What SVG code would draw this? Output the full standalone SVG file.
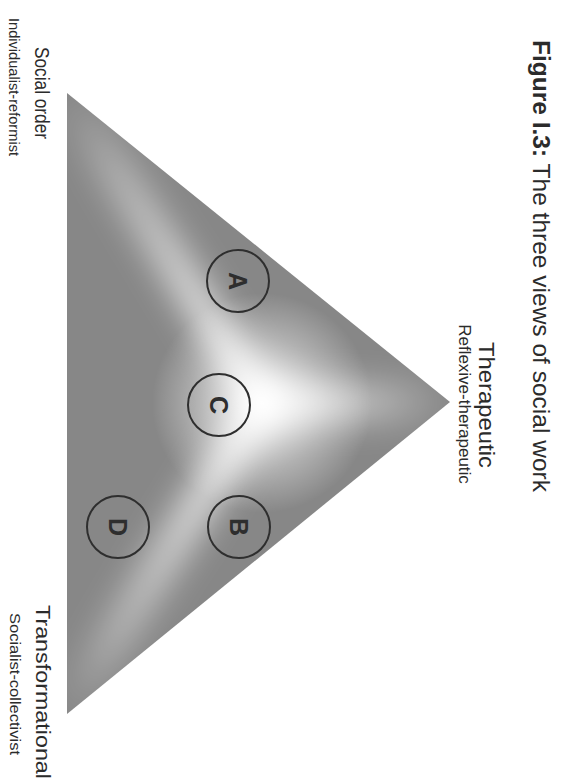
<svg xmlns="http://www.w3.org/2000/svg" width="571" height="781" viewBox="0 0 571 781">
<style>
.t{font-family:"Liberation Sans",Arial,sans-serif;fill:#2b2b2b}
.ring{fill:none;stroke:#2e2e2e;stroke-width:2}
.lt{font-family:"Liberation Sans",Arial,sans-serif;font-weight:bold;font-size:25px;fill:#2e2e2e;text-anchor:middle}
.ridge{stroke-linecap:round;fill:none}
</style>
<defs>
<clipPath id="triClip"><polygon points="67,93 67,714 450,402"/></clipPath>
<filter id="soft" x="-30%" y="-30%" width="160%" height="160%"><feGaussianBlur stdDeviation="16"/></filter>
<radialGradient id="glow" cx="262" cy="403" r="110" gradientUnits="userSpaceOnUse">
<stop offset="0" stop-color="#ffffff" stop-opacity="0.95"/>
<stop offset="0.6" stop-color="#ffffff" stop-opacity="0.35"/>
<stop offset="1" stop-color="#ffffff" stop-opacity="0"/>
</radialGradient>
<linearGradient id="gTL" x1="262" y1="403" x2="67" y2="93" gradientUnits="userSpaceOnUse">
<stop offset="0" stop-color="#fff" stop-opacity="0.95"/><stop offset="0.75" stop-color="#fff" stop-opacity="0.35"/><stop offset="1" stop-color="#fff" stop-opacity="0"/>
</linearGradient>
<linearGradient id="gBL" x1="262" y1="403" x2="67" y2="714" gradientUnits="userSpaceOnUse">
<stop offset="0" stop-color="#fff" stop-opacity="0.95"/><stop offset="0.75" stop-color="#fff" stop-opacity="0.35"/><stop offset="1" stop-color="#fff" stop-opacity="0"/>
</linearGradient>
<linearGradient id="gR" x1="262" y1="403" x2="450" y2="402" gradientUnits="userSpaceOnUse">
<stop offset="0" stop-color="#fff" stop-opacity="0.95"/><stop offset="0.7" stop-color="#fff" stop-opacity="0.3"/><stop offset="1" stop-color="#fff" stop-opacity="0"/>
</linearGradient>
</defs>

<g id="title">
<text class="t" font-size="24" transform="translate(533,40) rotate(90)" textLength="452" lengthAdjust="spacingAndGlyphs"><tspan font-weight="bold">Figure I.3:</tspan> The three views of social work</text>
</g>

<g id="triangle">
<polygon points="67,93 67,714 450,402" fill="#878787"/>
<g clip-path="url(#triClip)">
<g filter="url(#soft)">
<line class="ridge" x1="262" y1="403" x2="67" y2="93" stroke="url(#gTL)" stroke-width="34"/>
<line class="ridge" x1="262" y1="403" x2="67" y2="714" stroke="url(#gBL)" stroke-width="34"/>
<line class="ridge" x1="262" y1="403" x2="450" y2="402" stroke="url(#gR)" stroke-width="40"/>
</g>
<circle cx="262" cy="403" r="110" fill="url(#glow)"/>
</g>
</g>

<g id="node-A">
<circle class="ring" cx="238" cy="281" r="31"/>
<text class="lt" transform="translate(238,281) rotate(90)" dy="0.36em">A</text>
</g>
<g id="node-C">
<circle class="ring" cx="219" cy="405" r="31"/>
<text class="lt" transform="translate(219,405) rotate(90)" dy="0.36em">C</text>
</g>
<g id="node-B">
<circle class="ring" cx="239" cy="527" r="31"/>
<text class="lt" transform="translate(239,527) rotate(90)" dy="0.36em">B</text>
</g>
<g id="node-D">
<circle class="ring" cx="118" cy="527" r="31"/>
<text class="lt" transform="translate(118,527) rotate(90)" dy="0.36em">D</text>
</g>

<g id="label-therapeutic">
<text class="t" font-size="22" text-anchor="middle" textLength="126" lengthAdjust="spacingAndGlyphs" transform="translate(479,405) rotate(90)">Therapeutic</text>
<text class="t" font-size="17" text-anchor="middle" transform="translate(459,404) rotate(90)">Reflexive-therapeutic</text>
</g>
<g id="label-social-order">
<text class="t" font-size="21" text-anchor="middle" textLength="92" lengthAdjust="spacingAndGlyphs" transform="translate(35,93) rotate(90)">Social order</text>
<text class="t" font-size="15.5" text-anchor="middle" textLength="138" lengthAdjust="spacingAndGlyphs" transform="translate(9,87) rotate(90)">Individualist-reformist</text>
</g>
<g id="label-transformational">
<text class="t" font-size="21" text-anchor="middle" textLength="174" lengthAdjust="spacingAndGlyphs" transform="translate(36,692) rotate(90)">Transformational</text>
<text class="t" font-size="15.5" text-anchor="middle" textLength="142" lengthAdjust="spacingAndGlyphs" transform="translate(10,684) rotate(90)">Socialist-collectivist</text>
</g>
</svg>
